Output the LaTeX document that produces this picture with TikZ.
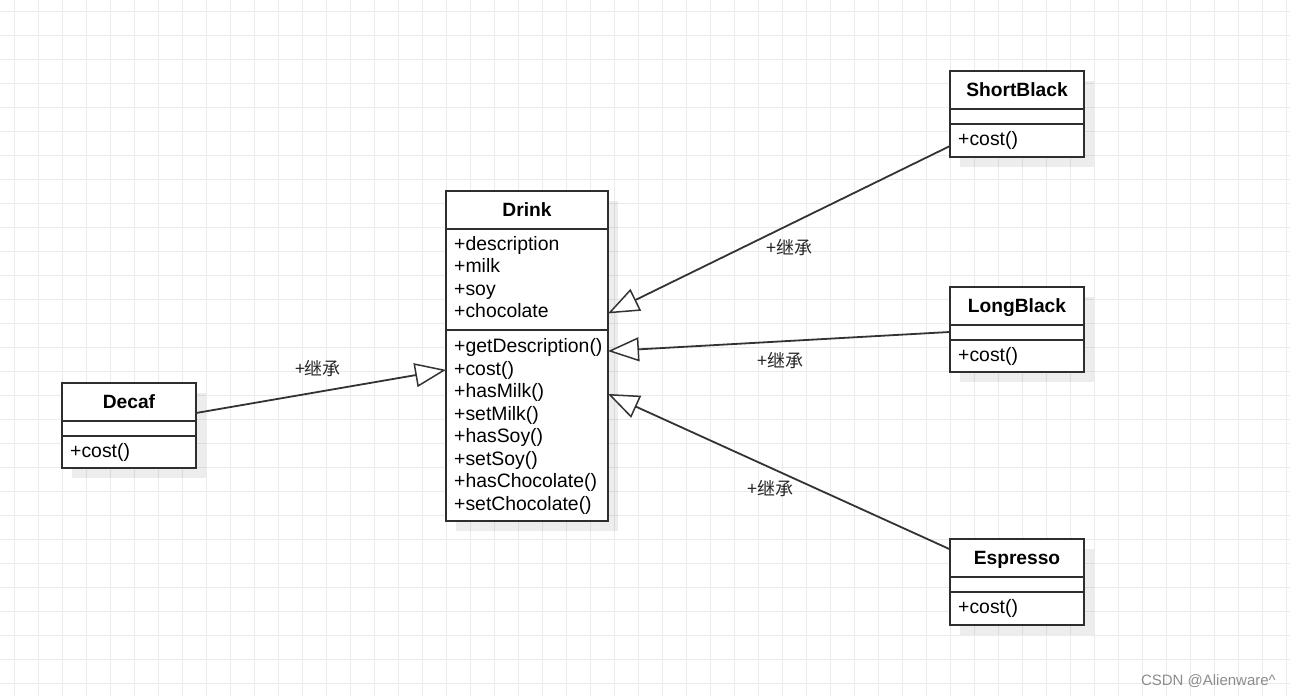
\documentclass[tikz,border=0pt]{standalone}
\usepackage{fontspec}
\setmainfont{Liberation Sans}
\newfontfamily\cjk{Noto Sans CJK SC}
\usetikzlibrary{arrows.meta,calc,shadows}
\begin{document}
\begin{tikzpicture}[x=1pt,y=-1pt,
  classbox/.style={draw=black!82, line width=1.6pt, fill=white, inner sep=0pt, outer sep=0pt, anchor=north west,
    drop shadow={shadow xshift=10pt, shadow yshift=-10pt, fill=black, opacity=0.07}},
  titletext/.style={font=\fontsize{19.2}{22.5}\selectfont\bfseries, anchor=base, inner sep=0pt},
  membertext/.style={font=\fontsize{19.4}{22.5}\selectfont, anchor=base west, inner sep=0pt},
  divider/.style={draw=black!82, line width=1.6pt},
  inherit/.style={draw=black!80, line width=1.8pt, -{Triangle[length=31pt, width=24pt, fill=white, line width=1.5pt]}},
  edgelabel/.style={font=\cjk\fontsize{18}{20}\selectfont, text=black!85, inner sep=0pt},
  gridline/.style={draw=black!8, line width=1pt}]

\fill[white] (0,0) rectangle (1290,696);
\useasboundingbox (0,0) rectangle (1290,696);
\foreach \gx in {0,...,53} \draw[gridline] ({14.3+24*\gx},0) -- ({14.3+24*\gx},696);
\foreach \gy in {0,...,28} \draw[gridline] (0,{11.5+24*\gy}) -- (1290,{11.5+24*\gy});

% Drink
\node[classbox, minimum width=162pt, minimum height=330pt] (drink) at (446,191) {};
\draw[divider] ($(drink.north west)+(0,38)$) -- ($(drink.north east)+(0,38)$);
\draw[divider] ($(drink.north west)+(0,139)$) -- ($(drink.north east)+(0,139)$);
\node[titletext] (drinkname) at ($(drink.north)+(0,25.5)$) {Drink};
\foreach \t [count=\i] in {+description,+milk,+soy,+chocolate}
  \node[membertext] (drinkattr\i) at ($(drink.north west)+(8,{59+22.5*(\i-1)})$) {\t};
\foreach \t [count=\i] in {+getDescription(),+cost(),+hasMilk(),+setMilk(),+hasSoy(),+setSoy(),+hasChocolate(),+setChocolate()}
  \node[membertext] (drinkop\i) at ($(drink.north west)+(8,{161.7+22.5*(\i-1)})$) {\t};

% small classes
\node[classbox, minimum width=134pt, minimum height=85pt] (decaf) at (62,383) {};
\node[classbox, minimum width=134pt, minimum height=86pt] (shortblack) at (950,71) {};
\node[classbox, minimum width=134pt, minimum height=85pt] (longblack) at (950,287) {};
\node[classbox, minimum width=134pt, minimum height=86pt] (espresso) at (950,539) {};
\foreach \n/\lab in {decaf/Decaf,shortblack/ShortBlack,longblack/LongBlack,espresso/Espresso}{
  \draw[divider] ($(\n.north west)+(0,38)$) -- ($(\n.north east)+(0,38)$);
  \draw[divider] ($(\n.north west)+(0,53)$) -- ($(\n.north east)+(0,53)$);
  \node[titletext] (\n name) at ($(\n.north)+(0,25.5)$) {\lab};
  \node[membertext] (\n op) at ($(\n.north west)+(8,74.5)$) {+cost()};
}

% inheritance connectors
\draw[inherit] ($(decaf.north east)!0.353!(decaf.south east)$) -- ($(drink.north west)!0.542!(drink.south west)$);
\draw[inherit] ($(shortblack.north west)!0.872!(shortblack.south west)$) -- ($(drink.north east)!0.371!(drink.south east)$);
\draw[inherit] ($(longblack.north west)!0.529!(longblack.south west)$) -- ($(drink.north east)!0.485!(drink.south east)$);
\draw[inherit] ($(espresso.north west)!0.12!(espresso.south west)$) -- ($(drink.north east)!0.615!(drink.south east)$);

\node[edgelabel] (lbldecaf) at (318,369) {+继承};
\node[edgelabel] (lblshort) at (789,248) {+继承};
\node[edgelabel] (lbllong) at (780,360.5) {+继承};
\node[edgelabel] (lblesp) at (770,489) {+继承};

\node[font=\fontsize{15}{15}\selectfont, text=black!45, anchor=east, inner sep=0pt] (wm) at (1276,681) {CSDN @Alienware\textasciicircum};
\end{tikzpicture}
\end{document}
